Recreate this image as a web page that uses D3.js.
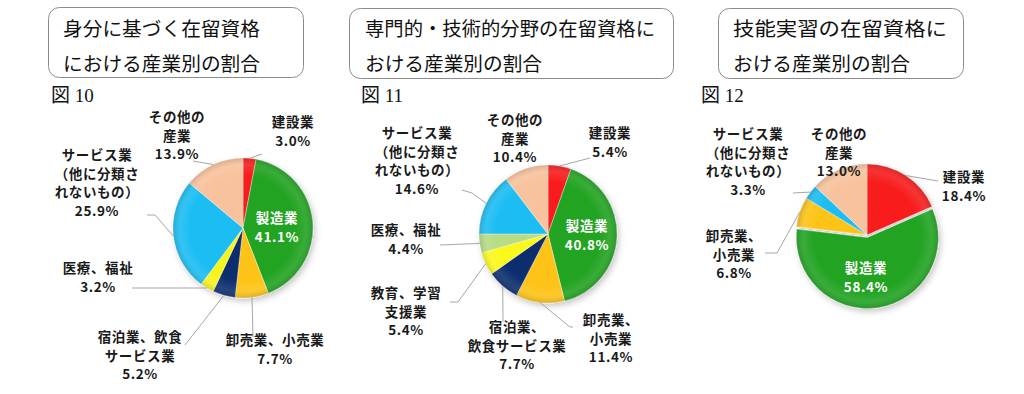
<!DOCTYPE html>
<html>
<head>
<meta charset="utf-8">
<script src="https://cdn.jsdelivr.net/npm/d3@7/dist/d3.min.js"></script>
<style>
  html, body { margin: 0; padding: 0; background: #ffffff; }
  svg { display: block; }
</style>
</head>
<body>
<svg id="chart" width="1024" height="394"></svg>
<script>
// ---------------- DATA ----------------
const fig10Categories = ["建設業", "製造業", "卸売業、小売業", "宿泊業、飲食サービス業", "医療、福祉", "サービス業（他に分類されないもの）", "その他の産業"];
const fig10Values = [3.0, 41.1, 7.7, 5.2, 3.2, 25.9, 13.9];
const fig10LabelLines = [["建設業"], ["製造業"], ["卸売業、小売業"], ["宿泊業、飲食", "サービス業"], ["医療、福祉"], ["サービス業", "（他に分類さ", "れないもの）"], ["その他の", "産業"]];

const fig11Categories = ["建設業", "製造業", "卸売業、小売業", "宿泊業、飲食サービス業", "教育、学習支援業", "医療、福祉", "サービス業（他に分類されないもの）", "その他の産業"];
const fig11Values = [5.4, 40.8, 11.4, 7.7, 5.4, 4.4, 14.6, 10.4];
const fig11LabelLines = [["建設業"], ["製造業"], ["卸売業、", "小売業"], ["宿泊業、", "飲食サービス業"], ["教育、学習", "支援業"], ["医療、福祉"], ["サービス業", "（他に分類さ", "れないもの）"], ["その他の", "産業"]];

const fig12Categories = ["建設業", "製造業", "卸売業、小売業", "サービス業（他に分類されないもの）", "その他の産業"];
const fig12Values = [18.4, 58.4, 6.8, 3.3, 13.0];
const fig12LabelLines = [["建設業"], ["製造業"], ["卸売業、", "小売業"], ["サービス業", "（他に分類さ", "れないもの）"], ["その他の", "産業"]];

const titles = [
  ["身分に基づく在留資格", "における産業別の割合"],
  ["専門的・技術的分野の在留資格に", "おける産業別の割合"],
  ["技能実習の在留資格に", "おける産業別の割合"]
];
const figNumbers = ["図 10", "図 11", "図 12"];

// ---------------- STYLE ----------------
const colorByCategory = {
  "建設業": "#f81b1b",
  "製造業": "#22a322",
  "卸売業、小売業": "#fdc317",
  "宿泊業、飲食サービス業": "#102f6e",
  "教育、学習支援業": "#fbf91a",
  "医療、福祉": "#f7f41c",
  "サービス業（他に分類されないもの）": "#1fbdf3",
  "その他の産業": "#f8c29c"
};
const fig11Override = { "医療、福祉": "#b6dc84" };

// ---------------- LAYOUT ----------------
const layouts = [
  {
    box: { x: 48, y: 7, w: 255, h: 70 }, textX: 63, tl: [197, 197], fs: 19.5,
    fig: { x: 51, y: 102 },
    cx: 243, cy: 228, r: 70,
    labels: [[50, -106], [34, -10], [32, 112], [-103, 109], [-145, 40], [-146, -73], [-66, -111]],
    leaders: [[[19, -74]], null, [[10, 109]], [[-58, 117]], [[-111, 60]], [[-88, -13], [-96, -13]], [[-50, -67]]],
    explode: []
  },
  {
    box: { x: 349, y: 8, w: 324, h: 70 }, textX: 365, tl: [290, 177], fs: 19.5,
    fig: { x: 361, y: 102 },
    cx: 548, cy: 234, r: 69,
    labels: [[62, -101], [39, -8], [63, 86], [-31, 93], [-142, 59], [-142, -4], [-131, -101], [-33, -114]],
    leaders: [[[42, -76]], null, [[22, 93], [25, 93]], [[-45, 88]], [[-90, 68], [-98, 68]], [[-108, 11]], [[-76, -41], [-86, -44]], null],
    explode: []
  },
  {
    box: { x: 718, y: 8, w: 245, h: 70 }, textX: 733, tl: [214, 177], fs: 19.5,
    fig: { x: 701, y: 102 },
    cx: 867, cy: 235, r: 71,
    labels: [[97, -58], [-1, 33], [-133, 1], [-119, -101], [-28, -101]],
    leaders: [[[71, -54]], null, [[-90, 18], [-102, 18]], [[-74, -42]], null],
    explode: [0, 2.5, 0, 0, 0]
  }
];

const datasets = [
  { cats: fig10Categories, vals: fig10Values, lines: fig10LabelLines, override: {} },
  { cats: fig11Categories, vals: fig11Values, lines: fig11LabelLines, override: fig11Override },
  { cats: fig12Categories, vals: fig12Values, lines: fig12LabelLines, override: {} }
];

const svg = d3.select("#chart");
const defs = svg.append("defs");

const shadow = defs.append("filter").attr("id", "shadow")
  .attr("x", "-20%").attr("y", "-20%").attr("width", "140%").attr("height", "140%");
shadow.append("feDropShadow").attr("dx", 2).attr("dy", 3).attr("stdDeviation", 3)
  .attr("flood-color", "#000").attr("flood-opacity", 0.22);

const fmt = d3.format(".1f");
const labelFont = "'Noto Sans CJK JP', 'Noto Sans', sans-serif";
const lineH = 18.5;

layouts.forEach((L, i) => {
  const D = datasets[i];
  const g = svg.append("g");

  // per-pie shading gradient (user space, centred on the pie)
  const gid = "shade" + i;
  const shade = defs.append("radialGradient").attr("id", gid)
    .attr("gradientUnits", "userSpaceOnUse")
    .attr("cx", 0).attr("cy", 0).attr("r", L.r + 3);
  shade.append("stop").attr("offset", "0%").attr("stop-color", "#ffffff").attr("stop-opacity", 0.0);
  shade.append("stop").attr("offset", "72%").attr("stop-color", "#ffffff").attr("stop-opacity", 0.0);
  shade.append("stop").attr("offset", "86%").attr("stop-color", "#ffffff").attr("stop-opacity", 0.10);
  shade.append("stop").attr("offset", "100%").attr("stop-color", "#000000").attr("stop-opacity", 0.22);

  // Title box
  g.append("rect")
    .attr("x", L.box.x + 0.5).attr("y", L.box.y + 0.5)
    .attr("width", L.box.w).attr("height", L.box.h)
    .attr("rx", 11).attr("ry", 11)
    .attr("fill", "#ffffff").attr("stroke", "#8c8c8c").attr("stroke-width", 1);
  titles[i].forEach((t, j) => {
    g.append("text")
      .attr("x", L.textX).attr("y", 36 + j * 34.5)
      .attr("font-family", "'Noto Sans CJK JP', sans-serif")
      .attr("font-size", L.fs).attr("fill", "#111")
      .attr("textLength", L.tl[j]).attr("lengthAdjust", "spacingAndGlyphs")
      .text(t);
  });

  // Figure number
  g.append("text")
    .attr("x", L.fig.x).attr("y", L.fig.y)
    .attr("font-family", "'Liberation Serif', 'Noto Sans CJK JP', serif")
    .attr("font-size", 19).attr("fill", "#111")
    .text(figNumbers[i]);

  // Pie
  const data = D.cats.map((c, k) => ({ cat: c, value: D.vals[k], lines: D.lines[k], idx: k }));
  const pie = d3.pie().sort(null).value(d => d.value);
  const arcs = pie(data);
  const arc = d3.arc().innerRadius(0).outerRadius(L.r);
  const edge = d3.arc().innerRadius(L.r).outerRadius(L.r);
  const offset = d => {
    const e = L.explode[d.index] || 0;
    if (!e) return null;
    const a = (d.startAngle + d.endAngle) / 2;
    return `translate(${e * Math.sin(a)},${-e * Math.cos(a)})`;
  };

  const pg = g.append("g").attr("transform", `translate(${L.cx},${L.cy})`);
  const slices = pg.append("g").attr("filter", "url(#shadow)");
  slices.selectAll("path.slice").data(arcs).enter().append("path")
    .attr("class", "slice")
    .attr("d", arc)
    .attr("transform", offset)
    .attr("fill", d => D.override[d.data.cat] || colorByCategory[d.data.cat])
    .attr("stroke", "rgba(255,255,255,0.5)").attr("stroke-width", 0.7);
  const shadeG = pg.append("g");
  shadeG.selectAll("path.shade").data(arcs).enter().append("path")
    .attr("class", "shade")
    .attr("d", arc)
    .attr("transform", offset)
    .attr("fill", `url(#${gid})`);

  // Leaders
  arcs.forEach(d => {
    const pts = L.leaders[d.index];
    if (!pts) return;
    const start = edge.centroid(d);
    const all = [start].concat(pts);
    pg.append("path")
      .attr("d", d3.line()(all))
      .attr("fill", "none").attr("stroke", "#a6a6a6").attr("stroke-width", 1);
  });

  // Labels
  arcs.forEach(d => {
    const [dx, dy] = L.labels[d.index];
    const inside = d.data.cat === "製造業";
    const lines = d.data.lines.concat([fmt(d.data.value) + "%"]);
    const t = pg.append("text")
      .attr("text-anchor", "middle")
      .attr("font-family", labelFont)
      .attr("font-weight", 700)
      .attr("font-size", 13.5)
      .attr("letter-spacing", "0.6px")
      .attr("fill", inside ? "#ffffff" : "#1a1a1a");
    lines.forEach((ln, k) => {
      t.append("tspan").attr("x", dx).attr("y", dy + 5 + k * lineH).text(ln);
    });
  });
});
</script>
</body>
</html>
